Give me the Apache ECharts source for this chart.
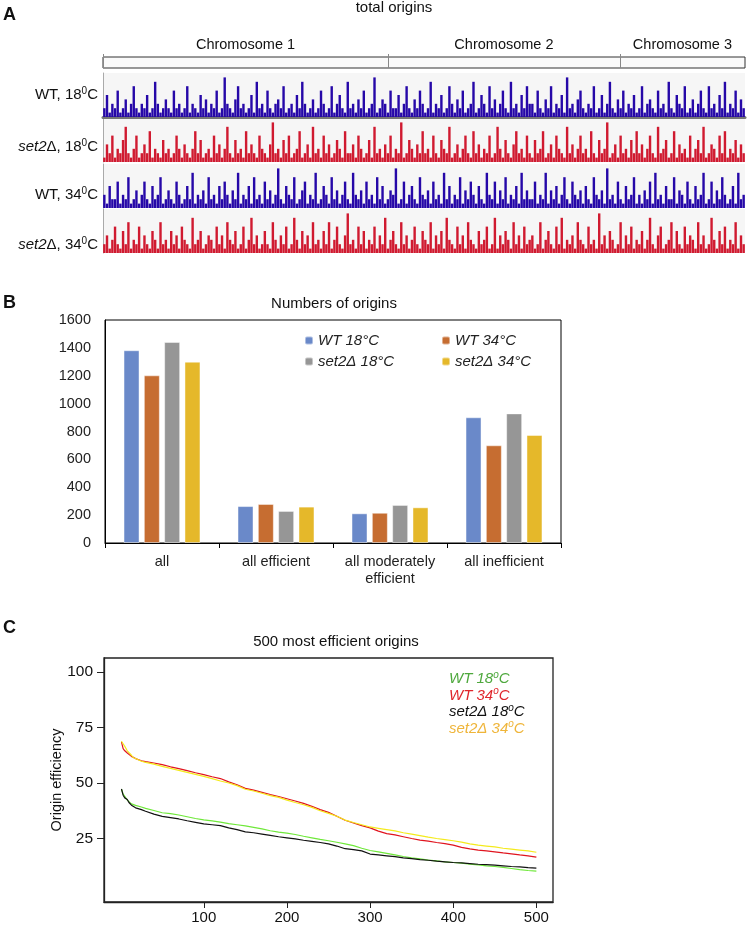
<!DOCTYPE html>
<html>
<head>
<meta charset="utf-8">
<title>Replication origins</title>
<script src="https://cdn.jsdelivr.net/npm/echarts@6/dist/echarts.min.js"></script>
<style>
html, body { margin: 0; padding: 0; background: #fff; }
#main { width: 747px; height: 925px; }
</style>
</head>
<body>
<div id="main"></div>
<script>
// ---- panel A: chromosomes (Mb) and origin tracks (relative peak heights, 0-9)
const chromNames = ['Chromosome 1', 'Chromosome 2', 'Chromosome 3'];
const chromLen = [5.58, 4.54, 2.45];

const wt18Track = [
  2,5,1,3,2,6,1,2,4,1,3,7,2,1,3,2,5,1,2,8,
  3,1,2,4,2,1,6,2,3,1,2,7,1,3,2,1,5,2,4,1,
  3,2,6,1,2,9,3,2,1,4,7,2,3,1,2,5,1,8,2,3,
  1,6,2,1,3,4,2,7,1,2,3,1,5,2,8,3,1,2,4,1,
  2,6,3,1,2,7,1,3,5,2,1,8,2,3,1,4,2,6,1,2,
  3,9,1,2,4,3,1,6,2,2,5,1,3,7,2,1,4,2,6,3,
  1,2,8,1,3,2,5,1,2,7,3,1,4,2,6,1,2,3,8,1,
  2,5,3,1,7,2,4,1,3,6,2,1,8,2,3,1,5,2,7,3,
  3,1,6,2,1,4,2,7,1,3,2,5,1,9,2,3,1,4,6,2,
  1,3,2,7,1,2,5,1,3,8,2,1,4,2,6,1,3,2,5,1,
  2,7,1,3,4,2,1,6,2,3,1,8,2,1,5,3,2,7,1,2,
  4,1,3,6,2,1,7,2,3,1,5,2,8,1,3,2,6,1,4,2
];
const set2_18Track = [
  1,4,2,6,1,3,2,5,8,2,1,3,6,1,2,4,2,7,1,3,
  2,1,5,2,3,1,2,6,3,1,4,2,1,3,7,2,5,1,2,3,
  1,6,2,4,1,3,8,2,1,5,2,3,1,7,2,4,2,1,6,3,
  2,1,4,9,2,3,1,5,2,6,1,2,3,7,1,2,4,1,8,2,
  3,1,6,2,4,1,2,5,3,1,7,2,2,4,1,6,3,1,2,5,
  1,8,2,3,1,4,2,6,1,3,2,9,1,2,5,3,1,4,2,7,
  2,3,1,6,2,1,5,3,2,8,1,2,4,1,3,6,2,1,7,2,
  4,1,3,2,6,1,2,8,3,1,5,2,1,4,7,2,3,1,6,2,
  1,5,2,3,7,1,2,4,1,6,3,2,1,8,2,4,1,3,6,2,
  3,1,7,2,1,5,2,3,9,1,2,4,1,6,2,3,1,5,2,7,
  2,4,1,3,6,2,1,8,2,3,5,1,2,7,1,4,2,3,1,6,
  1,3,5,2,8,1,2,4,3,1,6,2,7,1,3,2,5,1,4,2
];
const wt34Track = [
  3,1,5,2,2,6,1,3,2,7,1,2,4,1,3,6,2,1,5,2,
  3,7,1,2,4,2,1,6,3,1,2,5,2,8,1,3,2,4,1,7,
  2,3,1,5,2,6,3,1,4,2,8,1,3,2,5,1,7,2,3,1,
  6,2,4,1,3,9,2,1,5,3,2,7,1,2,4,6,1,3,2,8,
  1,2,5,3,1,7,2,4,1,3,6,2,1,8,3,2,4,1,6,2,
  3,1,7,2,5,1,2,4,3,9,1,2,6,1,3,5,2,1,7,3,
  2,4,1,6,2,3,1,8,2,5,1,3,2,7,1,4,2,6,3,1,
  5,2,1,8,3,2,6,1,4,2,7,1,3,2,5,1,8,2,4,2,
  2,6,1,3,2,8,1,4,2,5,1,3,7,2,1,6,3,2,4,1,
  5,2,1,7,3,2,4,1,9,2,3,1,6,2,1,5,2,3,7,1,
  3,1,4,2,6,1,8,2,3,1,5,2,2,7,1,4,3,1,6,2,
  1,5,2,3,8,1,2,6,1,4,2,7,3,1,2,5,1,8,2,3
];
const set2_34Track = [
  2,4,1,3,6,2,1,5,2,7,1,3,2,6,1,4,2,1,5,3,
  1,7,2,3,1,5,2,4,1,6,3,2,1,8,2,3,5,1,2,4,
  3,1,6,2,4,1,7,3,2,5,1,2,6,1,3,8,2,4,1,2,
  5,2,1,7,3,1,4,2,6,1,2,8,3,1,5,2,4,1,7,2,
  3,1,5,2,7,1,3,6,2,1,4,9,2,3,1,6,2,5,1,3,
  2,6,1,4,2,8,1,3,5,2,1,7,2,4,1,3,6,2,1,5,
  3,2,7,1,4,2,5,1,8,3,2,1,6,2,4,1,7,3,2,1,
  5,2,3,6,1,2,8,1,4,2,5,3,1,7,2,4,1,6,2,3,
  4,1,2,7,1,3,5,2,1,6,2,8,1,3,2,4,1,7,3,2,
  1,6,2,3,1,9,2,4,1,5,3,1,2,7,1,4,2,6,1,3,
  2,5,1,3,8,2,1,4,6,1,2,3,7,1,5,2,1,6,2,4,
  3,1,7,2,4,1,2,8,3,1,5,2,6,1,3,2,7,1,4,2
];

// ---- panel B: numbers of origins
const groups = ['all', 'all efficient', 'all moderately\nefficient', 'all inefficient'];
const wt18Count = [1383, 265, 213, 902];
const wt34Count = [1203, 280, 217, 701];
const set2_18Count = [1442, 230, 273, 930];
const set2_34Count = [1301, 261, 256, 775];

// ---- panel C: 500 most efficient origins (efficiency by rank)
const rank = [1,3,5,8,10,13,15,18,20,25,30,40,50,60,70,80,90,100,110,120,130,140,150,160,170,180,190,200,
  210,220,230,240,250,260,270,280,290,300,310,320,330,340,350,360,370,380,390,400,410,420,430,440,450,460,470,480,490,500];
const wt18Eff = [47.3,45,44,42.3,41.5,40.6,40.2,39.9,39.6,39.2,38.6,37.6,36.6,36.2,35.6,34.8,34,33.4,32.9,32.4,31.7,31.2,30.7,30,29.3,28.5,27.9,27.4,
  26.8,26,25.3,24.6,24,23.3,22.6,21.8,20.6,19.6,19,18.3,17.6,16.9,16.3,15.8,15.3,14.9,14.5,14.2,13.9,13.5,13.1,12.7,12.4,12,11.5,11,10.6,10.3];
const wt34Eff = [68.5,65.5,64.5,63.5,63,62,61.5,61,60.8,60,59.6,59,58.3,57.3,56.5,55.6,54.6,53.8,52.8,52,50.5,49.2,47.6,46.8,45.8,44.8,43.9,42.9,
  41.9,40.8,39.5,38,36.8,35,33.2,32,30.8,29.8,28.3,27.2,26.6,25.8,25,24.3,23.8,23.2,22.7,22,21,20.3,19.8,19.4,19,18.5,18.1,17.6,17.2,16.6];
const set2_18Eff = [47.3,44.5,43.3,42.6,41.2,40,39.3,38.8,38.6,38,37.3,36,35,34.4,33.8,33,32.3,31.6,31.2,30.8,29.8,29,28,27.6,27,26.4,25.8,25.3,
  24.8,24.2,23.7,23.2,22.6,21.6,20.4,20,19.4,18,17.6,17.2,16.8,16.3,15.9,15.5,15.2,14.8,14.5,14.2,14,13.7,13.4,13.2,13,12.7,12.4,12.2,11.9,11.7];
const set2_34Eff = [68.8,68,66.5,64.5,64,62.5,61.5,61,60.5,59.8,59.3,58.5,57.5,56.6,55.7,54.8,53.9,53,52,50.9,50,48.8,47.2,46.4,45.4,44.3,43.5,42.3,
  41.2,40.2,39,37.5,36.3,35,33.3,32.2,31.2,30.2,29.6,29,28.4,27.6,27,26.3,25.6,25,24.5,24,23.4,22.6,22,21.6,21.2,20.6,20.2,19.8,19.4,18.8];
const effTicks = [25, 50, 75, 100];
const rankTicks = [100, 200, 300, 400, 500];

const FONT = '"Liberation Sans", Arial, sans-serif';

// chromosome boundaries and label positions
const bounds = [0];
chromLen.forEach(l => bounds.push(+(bounds[bounds.length - 1] + l).toFixed(2)));
const mids = chromLen.map((l, i) => +(bounds[i] + l / 2).toFixed(3));

const tracks = [
  { text: '{n|WT, 18}{s|0}{n|C}', data: wt18Track, color: '#2608a8', top: 73, labelY: 95 },
  { text: '{i|set2}{n|Δ, 18}{s|0}{n|C}', data: set2_18Track, color: '#d01a30', top: 118, labelY: 147 },
  { text: '{n|WT, 34}{s|0}{n|C}', data: wt34Track, color: '#2608a8', top: 164, labelY: 195 },
  { text: '{i|set2}{n|Δ, 34}{s|0}{n|C}', data: set2_34Track, color: '#d01a30', top: 209, labelY: 245 }
];

const labelRich = {
  n: { fontSize: 15, fontFamily: FONT, fill: '#111', lineHeight: 18 },
  i: { fontSize: 15, fontFamily: FONT, fill: '#111', fontStyle: 'italic', lineHeight: 18 },
  s: { fontSize: 10, fontFamily: FONT, fill: '#111', verticalAlign: 'top', lineHeight: 10 }
};

const chart = echarts.init(document.getElementById('main'), null, { renderer: 'canvas' });

const grids = [
  { left: 103, right: 2, top: 57, height: 11, show: true, backgroundColor: '#fafafa', borderColor: '#333', borderWidth: 1 }
];
const xAxes = [{
  gridIndex: 0, type: 'value', min: 0, max: bounds[3], position: 'top',
  axisLine: { show: false }, splitLine: { show: false },
  axisTick: { show: true, customValues: bounds.slice(0, 3), length: 14, lineStyle: { color: '#888' } },
  axisLabel: {
    customValues: mids, margin: 5, fontSize: 14.5, color: '#111', fontFamily: FONT,
    formatter: v => chromNames[mids.findIndex(m => Math.abs(m - v) < 0.01)] || ''
  }
}];
const yAxes = [{ gridIndex: 0, type: 'value', show: false, min: 0, max: 1 }];
const series = [];
const graphics = [];

tracks.forEach((t, i) => {
  const gi = i + 1;
  grids.push({ left: 103, right: 2, top: t.top, height: 44, show: true, backgroundColor: '#f6f6f6', borderWidth: 0 });
  xAxes.push(i === 0 ? {
    gridIndex: gi, type: 'category', data: t.data.map((_, k) => k), position: 'top', offset: 2.5,
    axisLine: { show: true, lineStyle: { color: '#777', width: 3 } },
    axisTick: { show: false }, axisLabel: { show: false }
  } : {
    gridIndex: gi, type: 'category', data: t.data.map((_, k) => k), show: false
  });
  yAxes.push({
    gridIndex: gi, type: 'value', min: 0, max: 10,
    axisLine: { show: true, lineStyle: { color: '#aaa' } },
    axisTick: { show: false }, axisLabel: { show: false }, splitLine: { show: false }
  });
  series.push({
    type: 'bar', xAxisIndex: gi, yAxisIndex: gi, data: t.data, silent: true,
    barCategoryGap: '10%', itemStyle: { color: t.color }
  });
  graphics.push({
    type: 'text', x: 98, y: t.labelY,
    style: { text: t.text, rich: labelRich, align: 'right', verticalAlign: 'middle', fontSize: 15, fontFamily: FONT, fill: '#111' }
  });
});

// panel B
grids.push({ left: 105, right: 186, top: 320, height: 223, show: true, borderColor: '#000', borderWidth: 1 });
xAxes.push({
  gridIndex: 5, type: 'category', data: groups,
  axisLine: { show: true, lineStyle: { color: '#000' } },
  axisTick: { show: true, length: 5, lineStyle: { color: '#000' } },
  axisLabel: { fontSize: 14.5, color: '#222', margin: 10, lineHeight: 17, fontFamily: FONT, interval: 0 }
});
yAxes.push({
  gridIndex: 5, type: 'value', min: 0, max: 1600, interval: 200,
  axisLine: { show: true, lineStyle: { color: '#000' } },
  axisTick: { show: false }, splitLine: { show: false },
  axisLabel: { fontSize: 14.5, color: '#222', margin: 14, fontFamily: FONT, formatter: v => String(v) }
});
const barSeries = [
  ['WT 18°C', wt18Count, '#6a89c9'],
  ['WT 34°C', wt34Count, '#c66d31'],
  ['set2Δ 18°C', set2_18Count, '#969696'],
  ['set2Δ 34°C', set2_34Count, '#e5b82a']
];
barSeries.forEach(([name, data, color]) => {
  series.push({
    name, type: 'bar', xAxisIndex: 5, yAxisIndex: 5, data, barWidth: 16, barGap: '27%',
    itemStyle: { color, borderColor: 'rgba(255,255,255,0.45)', borderWidth: 1 }
  });
});

// panel C
grids.push({ left: 104, right: 194, top: 658, height: 246, show: true, borderColor: '#222', borderWidth: 1.3 });
xAxes.push({
  gridIndex: 6, type: 'value', min: -20, max: 520,
  axisLine: { show: true, onZero: false, lineStyle: { color: '#222', width: 1.3 } },
  axisTick: { show: true, customValues: rankTicks, length: 6, lineStyle: { color: '#222' } },
  axisLabel: { customValues: rankTicks, fontSize: 15, color: '#111', margin: 8, fontFamily: FONT },
  splitLine: { show: false }
});
yAxes.push({
  gridIndex: 6, type: 'value', min: -3.6, max: 106.3,
  axisLine: { show: true, onZero: false, lineStyle: { color: '#222', width: 1.3 } },
  axisTick: { show: true, customValues: effTicks, length: 7, lineStyle: { color: '#222' } },
  axisLabel: { customValues: effTicks, fontSize: 15.5, color: '#111', margin: 11, fontFamily: FONT },
  splitLine: { show: false },
  name: 'Origin efficiency', nameLocation: 'middle', nameGap: 40, nameMoveOverlap: false,
  nameTextStyle: { fontSize: 14.5, color: '#111', fontFamily: FONT }
});
const lineSeries = [
  ['WT 18oC', wt18Eff, '#6fe83a', '#4ea83d'],
  ['WT 34oC', wt34Eff, '#e0141e', '#e0262c'],
  ['set2Δ 18oC', set2_18Eff, '#111111', '#111111'],
  ['set2Δ 34oC', set2_34Eff, '#f4ea1c', '#efb53a']
];
lineSeries.forEach(([name, vals, color]) => {
  series.push({
    name, type: 'line', xAxisIndex: 6, yAxisIndex: 6, showSymbol: false, symbol: 'none',
    data: rank.map((r, i) => [r, vals[i]]),
    lineStyle: { color, width: 1.2 }, itemStyle: { color }
  });
});

// titles and panel letters
[
  ['total origins', 394, 8, 15, 'normal', 'center'],
  ['Numbers of origins', 334, 304, 15, 'normal', 'center'],
  ['500 most efficient origins', 336, 642, 15, 'normal', 'center'],
  ['A', 3, 15, 18, 'bold', 'left'],
  ['B', 3, 303, 18, 'bold', 'left'],
  ['C', 3, 628, 18, 'bold', 'left']
].forEach(([text, x, y, size, weight, align]) => {
  graphics.push({
    type: 'text', x, y,
    style: { text, fontSize: size, fontWeight: weight, fontFamily: FONT, fill: '#111', align, verticalAlign: 'middle' }
  });
});

const option = {
  animation: false,
  textStyle: { fontFamily: FONT },
  grid: grids,
  xAxis: xAxes,
  yAxis: yAxes,
  legend: [{
    left: 304, top: 333, padding: 0, orient: 'vertical', itemWidth: 8, itemHeight: 8, itemGap: 6,
    data: ['WT 18°C', 'set2Δ 18°C'],
    textStyle: { fontSize: 15, fontStyle: 'italic', color: '#222', fontFamily: FONT }
  }, {
    left: 441, top: 333, padding: 0, orient: 'vertical', itemWidth: 8, itemHeight: 8, itemGap: 6,
    data: ['WT 34°C', 'set2Δ 34°C'],
    textStyle: { fontSize: 15, fontStyle: 'italic', color: '#222', fontFamily: FONT }
  }, {
    left: 444, top: 670, padding: 0, orient: 'vertical', icon: 'none', itemWidth: 0, itemHeight: 0, itemGap: 0,
    data: lineSeries.map(s => ({ name: s[0], textStyle: { color: s[3] } })),
    formatter: n => '{n|' + n.slice(0, -2) + '}{s|o}{n|C}',
    textStyle: {
      fontSize: 15, fontStyle: 'italic', fontFamily: FONT,
      rich: {
        n: { fontSize: 15, fontStyle: 'italic', fontFamily: FONT, lineHeight: 18 },
        s: { fontSize: 10, fontStyle: 'italic', fontFamily: FONT, verticalAlign: 'top', lineHeight: 10 }
      }
    }
  }],
  graphic: graphics,
  series
};

chart.setOption(option);
window.addEventListener('resize', () => chart.resize());
</script>
</body>
</html>
